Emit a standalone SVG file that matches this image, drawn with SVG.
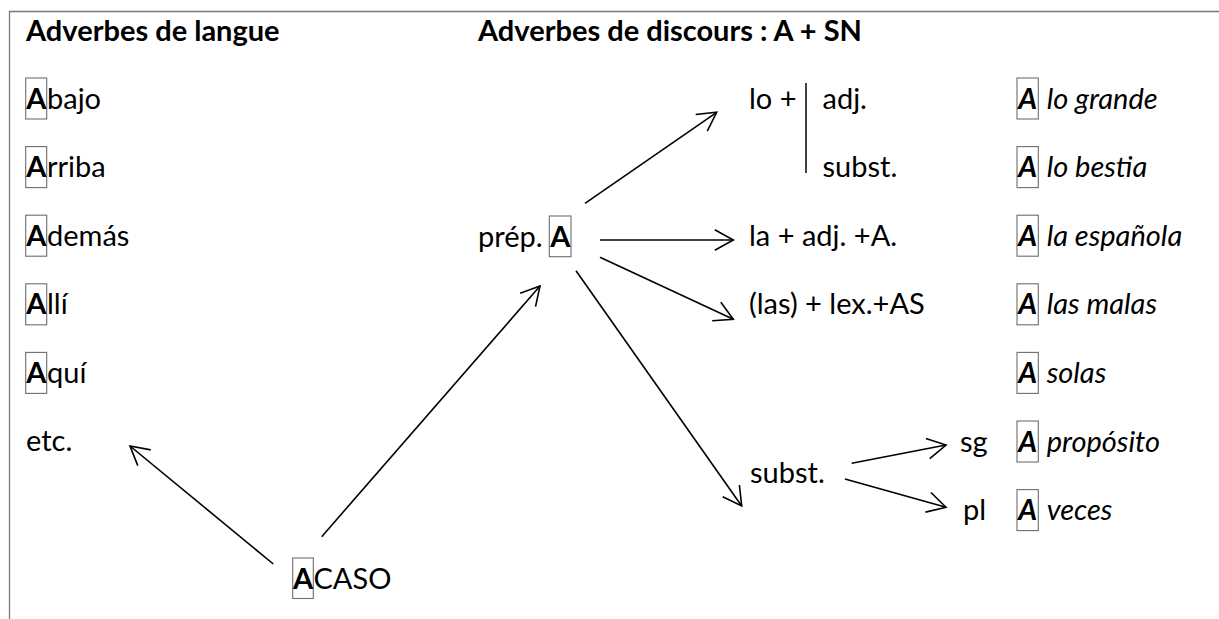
<svg xmlns="http://www.w3.org/2000/svg" width="1219" height="619" viewBox="0 0 1219 619">
<style>
text{font-family:Lato,"Liberation Sans",sans-serif;font-size:29px;fill:#000}
.b{font-weight:bold}
.i{font-style:italic}
.bi{font-weight:bold;font-style:italic}
.box{fill:none;stroke:#6e6e6e;stroke-width:1.1}
.c line{stroke:#000;stroke-width:1.6;fill:none}
.frame{stroke:#7a7a7a;stroke-width:1.3;fill:none}
</style>
<defs>
<marker id="arr" viewBox="-24 -14 28 28" refX="0" refY="0" markerWidth="28" markerHeight="28" markerUnits="userSpaceOnUse" orient="auto">
<path d="M-18.5,-10.2 L0,0 L-18.5,10.2" fill="none" stroke="#000" stroke-width="1.6" stroke-linejoin="miter"/>
</marker>
</defs>
<rect width="1219" height="619" fill="#fff"/>
<path class="frame" d="M9.5,619 V11.5 H1219"/>

<g id="title-langue"><text class="b" x="26" y="41">Adverbes de langue</text></g>
<g id="title-discours"><text class="b" x="478" y="41">Adverbes de discours : A + SN</text></g>

<g id="abajo"><rect class="box" x="25.7" y="78" width="21" height="41"/><text y="108.5"><tspan class="b" x="36.2" text-anchor="middle">A</tspan><tspan x="47">bajo</tspan></text></g>
<g id="arriba"><rect class="box" x="25.7" y="146.6" width="21" height="41"/><text y="177.1"><tspan class="b" x="36.2" text-anchor="middle">A</tspan><tspan x="47">rriba</tspan></text></g>
<g id="ademas"><rect class="box" x="25.7" y="215.2" width="21" height="41"/><text y="245.7"><tspan class="b" x="36.2" text-anchor="middle">A</tspan><tspan x="47">demás</tspan></text></g>
<g id="alli"><rect class="box" x="25.7" y="283.8" width="21" height="41"/><text y="314.3"><tspan class="b" x="36.2" text-anchor="middle">A</tspan><tspan x="47">llí</tspan></text></g>
<g id="aqui"><rect class="box" x="25.7" y="352.4" width="21" height="41"/><text y="382.9"><tspan class="b" x="36.2" text-anchor="middle">A</tspan><tspan x="47">quí</tspan></text></g>
<g id="etc"><text x="26" y="451">etc.</text></g>

<g id="acaso"><rect class="box" x="292.7" y="558" width="20.6" height="40.5"/><text y="588.5"><tspan class="b" x="303" text-anchor="middle">A</tspan><tspan x="313.5">CASO</tspan></text></g>

<g id="prep-a"><text x="478" y="246.5">prép.</text><rect class="box" x="549.3" y="216" width="21.7" height="40.7"/><text class="b" x="560.2" y="246.5" text-anchor="middle">A</text></g>

<g id="lo"><text x="749" y="108.5">lo +</text><line x1="806" y1="83" x2="806" y2="173" stroke="#000" stroke-width="1.5"/><text x="822.5" y="108.5">adj.</text><text x="822.5" y="177">subst.</text></g>
<g id="la"><text x="749" y="245.7">la + adj. +A.</text></g>
<g id="las"><text x="749" y="314.3">(las) + lex.+AS</text></g>
<g id="subst"><text x="750" y="483">subst.</text></g>
<g id="sg"><text x="960" y="452">sg</text></g>
<g id="pl"><text x="963" y="520">pl</text></g>

<g id="ex-lo-grande"><rect class="box" x="1017" y="78" width="21.3" height="41"/><text y="108.5"><tspan class="bi" x="1027.6" text-anchor="middle">A</tspan><tspan class="i" x="1046.7">lo grande</tspan></text></g>
<g id="ex-lo-bestia"><rect class="box" x="1017" y="146.6" width="21.3" height="41"/><text y="177.1"><tspan class="bi" x="1027.6" text-anchor="middle">A</tspan><tspan class="i" x="1046.7">lo bestia</tspan></text></g>
<g id="ex-la-espanola"><rect class="box" x="1017" y="215.2" width="21.3" height="41"/><text y="245.7"><tspan class="bi" x="1027.6" text-anchor="middle">A</tspan><tspan class="i" x="1046.7">la española</tspan></text></g>
<g id="ex-las-malas"><rect class="box" x="1017" y="283.8" width="21.3" height="41"/><text y="314.3"><tspan class="bi" x="1027.6" text-anchor="middle">A</tspan><tspan class="i" x="1046.7">las malas</tspan></text></g>
<g id="ex-solas"><rect class="box" x="1017" y="352.4" width="21.3" height="41"/><text y="382.9"><tspan class="bi" x="1027.6" text-anchor="middle">A</tspan><tspan class="i" x="1046.7">solas</tspan></text></g>
<g id="ex-proposito"><rect class="box" x="1017" y="421" width="21.3" height="41"/><text y="451.5"><tspan class="bi" x="1027.6" text-anchor="middle">A</tspan><tspan class="i" x="1046.7">propósito</tspan></text></g>
<g id="ex-veces"><rect class="box" x="1017" y="489.6" width="21.3" height="41"/><text y="520.1"><tspan class="bi" x="1027.6" text-anchor="middle">A</tspan><tspan class="i" x="1046.7">veces</tspan></text></g>

<g id="connectors" class="c">
<line x1="273.3" y1="564" x2="130" y2="446" marker-end="url(#arr)"/>
<line x1="321.7" y1="536.7" x2="540" y2="286" marker-end="url(#arr)"/>
<line x1="585" y1="203.3" x2="716.7" y2="112.3" marker-end="url(#arr)"/>
<line x1="600" y1="240" x2="733.3" y2="240" marker-end="url(#arr)"/>
<line x1="600" y1="257.3" x2="733.3" y2="319.3" marker-end="url(#arr)"/>
<line x1="576" y1="270.7" x2="741.7" y2="506" marker-end="url(#arr)"/>
<line x1="851.7" y1="463.3" x2="946" y2="445" marker-end="url(#arr)"/>
<line x1="845" y1="479" x2="946" y2="507.3" marker-end="url(#arr)"/>
</g>
</svg>
